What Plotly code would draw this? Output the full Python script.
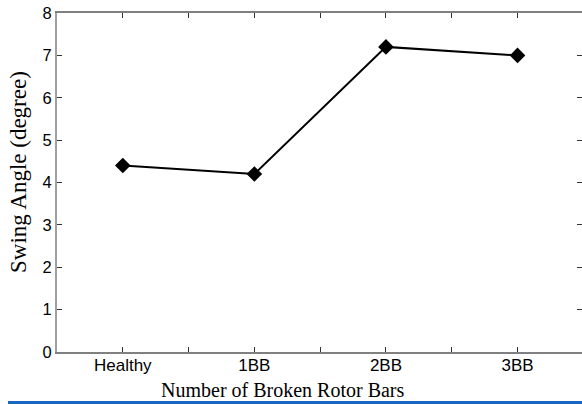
import plotly.graph_objects as go

# Swing angle versus rotor condition
categories = ["Healthy", "1BB", "2BB", "3BB"]
swing_angle = [4.4, 4.2, 7.2, 7.0]
y_ticks = [0, 1, 2, 3, 4, 5, 6, 7, 8]

W, H = 582, 404
L, T, B = 57, 13, 52
plot_w = W - L
plot_h = H - T - B

x_pos = list(range(len(categories)))
# ticks at each category and halfway between them
x_tickvals = [i * 0.5 for i in range(0, 2 * len(categories) - 1)]
x_ticktext = [categories[int(v)] if v == int(v) else "" for v in x_tickvals]

fig = go.Figure()
fig.add_trace(go.Scatter(
    x=x_pos, y=swing_angle, mode="lines+markers",
    line=dict(color="black", width=2),
    marker=dict(symbol="diamond", size=12, color="black"),
    showlegend=False,
))
# invisible trace to drive the right-hand tick axis
fig.add_trace(go.Scatter(x=[x_pos[0]], y=[swing_angle[0]], yaxis="y2",
                         mode="markers", marker=dict(opacity=0),
                         showlegend=False, hoverinfo="skip"))

sans = "Liberation Sans, Arial, sans-serif"
serif = "Liberation Serif, Times New Roman, serif"
fig.update_layout(
    width=W, height=H,
    margin=dict(l=L, r=0, t=T, b=B),
    paper_bgcolor="white", plot_bgcolor="white",
    xaxis=dict(
        range=[-0.5, 3.49], tickvals=x_tickvals, ticktext=x_ticktext,
        ticks="inside", ticklen=5, tickcolor="#333", tickwidth=1,
        showline=True, linecolor="#808080", linewidth=2, mirror="ticks",
        showgrid=False, zeroline=False, ticklabelstandoff=-3,
        tickfont=dict(family=sans, size=17, color="black"),
    ),
    yaxis=dict(
        range=[0, 8], tickvals=y_ticks,
        ticks="inside", ticklen=5, tickcolor="#333", tickwidth=1,
        showline=True, linecolor="#a0a0a0", linewidth=2,
        showgrid=False, zeroline=False,
        tickfont=dict(family=sans, size=16.5, color="black"),
    ),
    yaxis2=dict(
        range=[0, 8], tickvals=y_ticks, overlaying="y", side="right",
        ticks="inside", ticklen=5, tickcolor="#333", tickwidth=1,
        showline=False, showticklabels=False, showgrid=False, zeroline=False,
    ),
    annotations=[
        dict(text="Swing Angle (degree)", textangle=-90,
             xref="paper", yref="paper",
             x=(19 - L) / plot_w, y=(H - B - 172) / plot_h,
             xanchor="center", yanchor="middle", showarrow=False,
             font=dict(family=serif, size=23, color="black")),
        dict(text="Number of Broken Rotor Bars",
             xref="paper", yref="paper",
             x=(283 - L) / plot_w, y=(H - B - 390) / plot_h,
             xanchor="center", yanchor="middle", showarrow=False,
             font=dict(family=serif, size=20, color="black")),
    ],
    shapes=[
        dict(type="line", xref="paper", yref="paper",
             x0=(8 - L) / plot_w, x1=1.0,
             y0=(H - B - 402.5) / plot_h, y1=(H - B - 402.5) / plot_h,
             line=dict(color="#1a66c2", width=3)),
    ],
)

fig.write_html("out.html")
